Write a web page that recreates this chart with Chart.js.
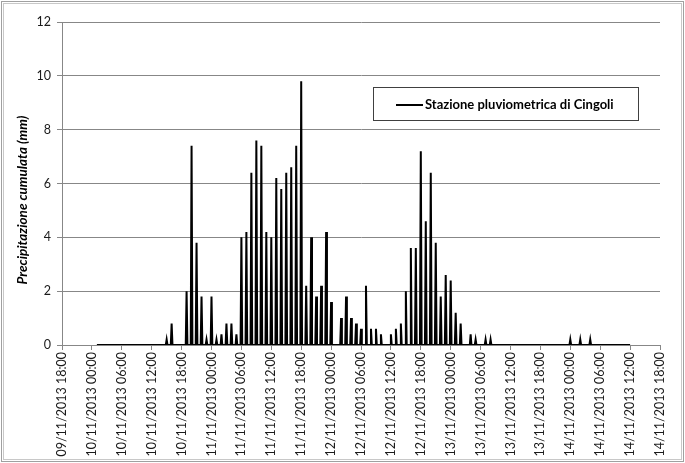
<!DOCTYPE html>
<html>
<head>
<meta charset="utf-8">
<script src="https://cdn.jsdelivr.net/npm/chart.js@4/dist/chart.umd.min.js"></script>
<style>
  html, body { margin: 0; padding: 0; background: #fff; }
  #wrap { width: 685px; height: 463px; position: relative; }
  canvas { display: block; }
</style>
</head>
<body>
<div id="wrap"><canvas id="chart" width="685" height="463"></canvas></div>
<script>
// Hourly precipitation (mm), Cingoli rain gauge, one value per hour.
// 10/11/2013 starts at 01:00; 14/11/2013 ends at 12:00.
const rain10Nov = [
  0, 0, 0, 0, 0, 0,                 // 01-06
  0, 0, 0, 0, 0, 0,                 // 07-12
  0, 0, 0.2, 0.8, 0, 0,             // 13-18
  2.0, 7.4, 3.8, 1.8, 0.2           // 19-23
];
const rain11Nov = [
  1.8, 0.2, 0.4, 0.8, 0.8, 0.4,     // 00-05
  4.0, 4.2, 6.4, 7.6, 7.4, 4.2,     // 06-11
  4.0, 6.2, 5.8, 6.4, 6.6, 7.4,     // 12-17
  9.8, 2.2, 4.0, 1.8, 2.2, 4.2      // 18-23
];
const rain12Nov = [
  1.6, 0, 1.0, 1.8, 1.0, 0.8,       // 00-05
  0.6, 2.2, 0.6, 0.6, 0.4, 0,       // 06-11
  0.4, 0.6, 0.8, 2.0, 3.6, 3.6,     // 12-17
  7.2, 4.6, 6.4, 3.8, 1.8, 2.6      // 18-23
];
const rain13Nov = [
  2.4, 1.2, 0.8, 0, 0.4, 0.2,       // 00-05
  0, 0.2, 0.2, 0, 0, 0,             // 06-11
  0, 0, 0, 0, 0, 0,                 // 12-17
  0, 0, 0, 0, 0, 0                  // 18-23
];
const rain14Nov = [
  0.2, 0, 0.2, 0, 0.2, 0,           // 00-05
  0, 0, 0, 0, 0, 0,                 // 06-11
  0                                 // 12
];

// Axis tick labels, one every six hours
const tickLabels = [
  '09/11/2013 18:00', '10/11/2013 00:00', '10/11/2013 06:00', '10/11/2013 12:00',
  '10/11/2013 18:00', '11/11/2013 00:00', '11/11/2013 06:00', '11/11/2013 12:00',
  '11/11/2013 18:00', '12/11/2013 00:00', '12/11/2013 06:00', '12/11/2013 12:00',
  '12/11/2013 18:00', '13/11/2013 00:00', '13/11/2013 06:00', '13/11/2013 12:00',
  '13/11/2013 18:00', '14/11/2013 00:00', '14/11/2013 06:00', '14/11/2013 12:00',
  '14/11/2013 18:00'
];

const seriesName = 'Stazione pluviometrica di Cingoli';
const yTitle = 'Precipitazione cumulata (mm)';

// Time axis is in hours from 09/11/2013 18:00
const TICK_STEP_H = 6;
const FIRST_HOUR = 7;        // 10/11/2013 01:00
const SPIKE_HALF_H = 1 / 6;  // each rainy hour is drawn as a narrow spike off the baseline

const hourly = [].concat(rain10Nov, rain11Nov, rain12Nov, rain13Nov, rain14Nov);
const points = [];
hourly.forEach((v, i) => {
  const h = FIRST_HOUR + i;
  if (v > 0) {
    points.push({ x: h - SPIKE_HALF_H, y: 0 }, { x: h, y: v }, { x: h + SPIKE_HALF_H, y: 0 });
  } else {
    points.push({ x: h, y: 0 });
  }
});

const FONT = 'Lato, "Open Sans", sans-serif';
const GRID = '#878787';

const frame = {
  id: 'frame',
  beforeDraw(chart) {
    const c = chart.ctx;
    c.save();
    c.fillStyle = '#fff';
    c.fillRect(0, 0, chart.width, chart.height);
    c.restore();
  },
  afterDraw(chart) {
    const c = chart.ctx;
    c.save();
    c.strokeStyle = '#a0a0a0';
    c.lineWidth = 1;
    c.strokeRect(1.5, 1.5, chart.width - 3, chart.height - 3);
    c.strokeStyle = '#c8c8c8';
    c.strokeRect(3.5, 3.5, chart.width - 7, chart.height - 7);

    // vertical axis title
    c.translate(23, 200);
    c.rotate(-Math.PI / 2);
    c.fillStyle = '#000';
    c.font = 'italic bold 13.5px ' + FONT;
    c.textAlign = 'center';
    c.textBaseline = 'middle';
    c.fillText(yTitle, 0, 0);
    c.restore();

    // legend box
    c.save();
    c.fillStyle = '#fff';
    c.fillRect(374, 88, 264, 33);
    c.strokeStyle = '#404040';
    c.lineWidth = 1;
    c.strokeRect(373.5, 87.5, 265, 33);
    c.strokeStyle = '#000';
    c.lineWidth = 2;
    c.beginPath();
    c.moveTo(396, 105);
    c.lineTo(423, 105);
    c.stroke();
    c.fillStyle = '#000';
    c.font = 'bold 13px ' + FONT;
    c.textAlign = 'left';
    c.textBaseline = 'middle';
    c.fillText(chart.data.datasets[0].label, 425, 104.5);
    c.restore();
  }
};

new Chart(document.getElementById('chart'), {
  type: 'line',
  data: {
    datasets: [{
      label: seriesName,
      data: points,
      borderColor: '#000',
      borderWidth: 2,
      pointRadius: 0,
      tension: 0,
      fill: false
    }]
  },
  options: {
    responsive: false,
    animation: false,
    devicePixelRatio: 1,
    layout: { padding: { top: 22, right: 25, left: 0, bottom: 0 } },
    plugins: {
      legend: { display: false },
      tooltip: { enabled: false }
    },
    scales: {
      x: {
        type: 'linear',
        min: 0,
        max: (tickLabels.length - 1) * TICK_STEP_H,
        afterBuildTicks(scale) {
          scale.ticks = tickLabels.map((_, i) => ({ value: i * TICK_STEP_H }));
        },
        afterFit(scale) { scale.height = 118; },
        ticks: {
          autoSkip: false,
          maxRotation: 90,
          minRotation: 90,
          padding: 2,
          color: '#1a1a1a',
          font: { family: FONT, size: 12.5 },
          callback: (v, i) => tickLabels[i]
        },
        grid: { drawOnChartArea: false, drawTicks: true, tickLength: 5, color: GRID },
        border: { display: true, color: GRID, width: 1 }
      },
      y: {
        min: 0,
        max: 12,
        afterFit(scale) { scale.width = 62; },
        ticks: {
          stepSize: 2,
          padding: 6,
          color: '#1a1a1a',
          font: { family: FONT, size: 12.5 }
        },
        grid: { color: GRID, tickLength: 5, drawTicks: true },
        border: { display: true, color: GRID, width: 1 }
      }
    }
  },
  plugins: [frame]
});
</script>
</body>
</html>
